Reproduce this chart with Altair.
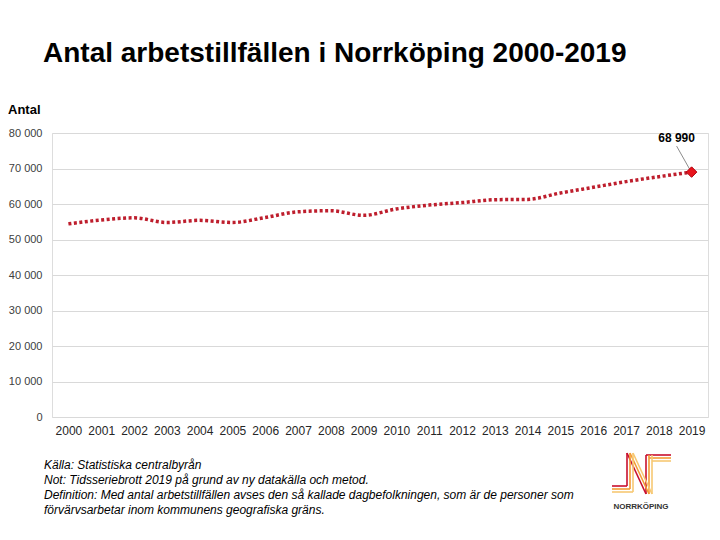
import altair as alt
import pandas as pd

# ---- data ----
years = [str(y) for y in range(2000, 2020)]
values = [54400, 55500, 56100, 54800, 55400, 54800, 56200, 57800, 58100, 56800,
          58600, 59700, 60400, 61200, 61300, 63100, 64700, 66300, 67700, 68990]
y_ticks = [0, 10000, 20000, 30000, 40000, 50000, 60000, 70000, 80000]

title_text = "Antal arbetstillfällen i Norrköping 2000-2019"
y_title = "Antal"
notes = [
    "Källa: Statistiska centralbyrån",
    "Not: Tidsseriebrott 2019 på grund av ny datakälla och metod.",
    "Definition: Med antal arbetstillfällen avses den så kallade dagbefolkningen, som är de personer som",
    "förvärvsarbetar inom kommunens geografiska gräns.",
]
logo_text = "NORRKÖPING"

df = pd.DataFrame({"year": years, "value": values})
last = df.tail(1).copy()
last["label"] = [f"{v:,}".replace(",", " ") for v in last["value"]]

FONT = "Liberation Sans"

x_enc = alt.X("year:O", scale=alt.Scale(type="point", padding=0.5),
              axis=alt.Axis(title=None, labelAngle=0, domain=False, ticks=False,
                            labelPadding=8, labelFontSize=12, labelColor="#262626",
                            grid=False, labelFont=FONT))
y_enc = alt.Y("value:Q", scale=alt.Scale(domain=[0, 80000], nice=False, zero=True),
              axis=alt.Axis(title=None, values=y_ticks, tickCount=20, domain=False,
                            ticks=False, labelPadding=10, labelFontSize=11,
                            labelColor="#404040", labelOverlap=False,
                            gridColor="#d9d9d9", gridWidth=1, labelFont=FONT,
                            labelExpr="replace(format(datum.value, ','), ',', ' ')"))

line = alt.Chart(df).mark_line(
    interpolate="monotone", strokeDash=[3, 2.5], strokeWidth=3.5,
    color="#be1e2d", strokeCap="butt"
).encode(x=x_enc, y=y_enc)

diamond = alt.Chart(last).mark_point(
    shape="diamond", filled=True, size=110, color="#e8141c",
    stroke="#b0000c", strokeWidth=1, opacity=1
).encode(x=x_enc, y=y_enc)

leader = alt.Chart(last).mark_rule(
    color="#8c8c8c", strokeWidth=1,
    xOffset=-2, yOffset=-3, x2Offset=-15, y2Offset=-26
).encode(x=x_enc, y=y_enc, x2="year:O", y2="value:Q")

label = alt.Chart(last).mark_text(
    fontWeight="bold", fontSize=12, dx=-15, dy=-34, color="#000000", font=FONT
).encode(x=x_enc, y=y_enc, text="label:N")

one = alt.Data(values=[{}])

title = alt.Chart(one).mark_text(
    text=title_text, fontSize=28, fontWeight="bold", align="left",
    baseline="alphabetic", font=FONT, color="#000000"
).encode(x=alt.value(-9), y=alt.value(-71))

ytitle = alt.Chart(one).mark_text(
    text=y_title, fontSize=13, fontWeight="bold", align="left",
    baseline="alphabetic", font=FONT, color="#000000"
).encode(x=alt.value(-44), y=alt.value(-19))

footnote = alt.Chart(one).mark_text(
    text=notes, fontSize=12, fontStyle="italic", align="left",
    baseline="top", lineHeight=15, font=FONT, color="#000000"
).encode(x=alt.value(-8), y=alt.value(327))

logo_label = alt.Chart(one).mark_text(
    text=logo_text, fontSize=8, fontWeight="bold", align="center",
    baseline="middle", font=FONT, color="#333333"
).encode(x=alt.value(589), y=alt.value(374))

# simple approximation of the logo strokes (decoration)
ox, oy = 52, 133
logo_layers = []
for i, col in enumerate(["#c8102e", "#f39c34", "#f7c873"]):
    d = 3 * i
    segs = [
        (627 + d, 453, 646 + d, 494),   # diagonal
        (627 + d, 453, 627 + d, 486 + d),  # left stem
        (612, 486 + d, 627 + d, 486 + d),  # bottom-left wave
        (646 + d, 455, 646 + d, 494),   # right stem
        (646 + d, 455 + d, 671, 455 + d),  # top flag
    ]
    for (x1, y1, x2, y2) in segs:
        logo_layers.append(
            alt.Chart(one).mark_rule(color=col, strokeWidth=1.6).encode(
                x=alt.value(x1 - ox), y=alt.value(y1 - oy),
                x2=alt.value(x2 - ox), y2=alt.value(y2 - oy))
        )

chart = alt.layer(line, leader, diamond, label, title, ytitle, footnote,
                  logo_label, *logo_layers).properties(
    width=656, height=284,
    padding={"left": 44, "top": 125, "right": 2, "bottom": 110},
    autosize=alt.AutoSizeParams(type="none"),
).configure_view(stroke=None).configure(font=FONT, background="#ffffff")

chart.save("out.html", embed_options={"renderer": "svg", "actions": False})
